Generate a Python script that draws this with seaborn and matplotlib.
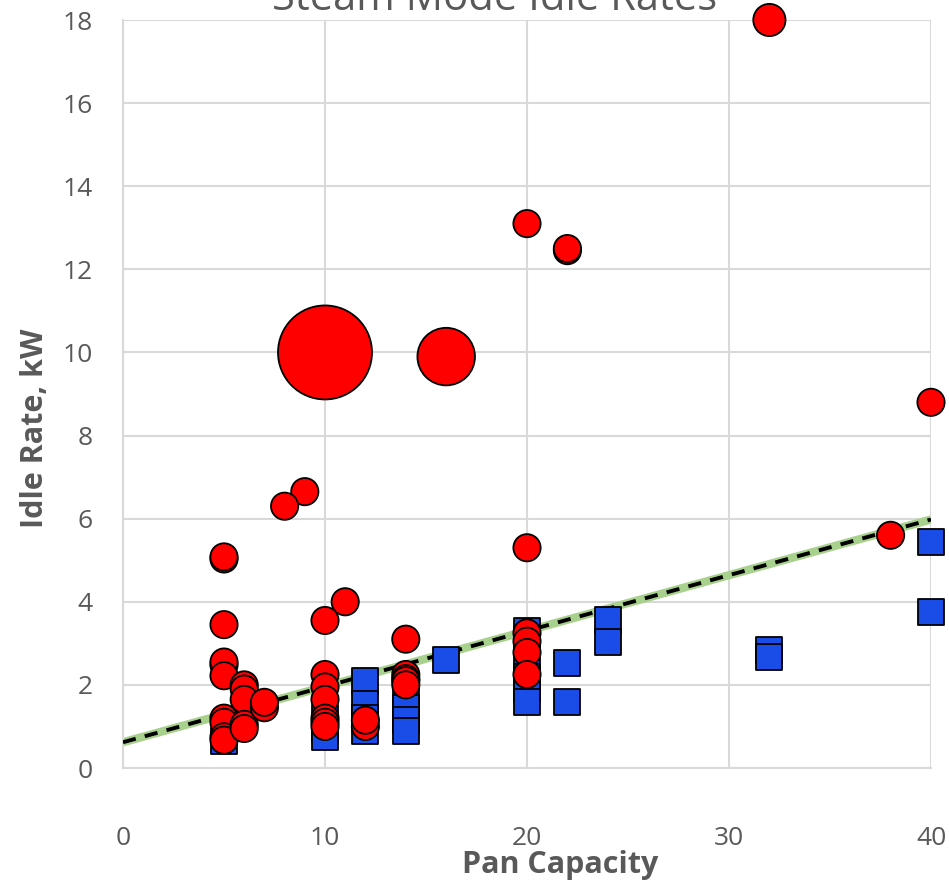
import matplotlib
matplotlib.use("Agg")
import matplotlib.pyplot as plt
import seaborn as sns
import pandas as pd
import numpy as np

# ---- data ----
red_x = [32, 10, 16, 20, 22, 22, 40, 38, 9, 8, 20, 5, 5, 11, 10, 14, 5,
         5, 5, 5, 5, 5, 5, 5,
         6, 6, 6, 6, 6, 7, 7,
         10, 10, 10, 10, 10, 10,
         12, 12,
         14, 14, 14, 14,
         20, 20, 20, 20]
red_y = [18.0, 10.0, 9.9, 13.1, 12.45, 12.5, 8.8, 5.6, 6.65, 6.3, 5.3, 5.03, 5.08, 4.0, 3.55, 3.1, 3.45,
         2.48, 2.55, 2.22, 1.2, 1.1, 0.75, 0.67,
         2.0, 1.9, 1.65, 1.05, 0.95, 1.45, 1.58,
         2.25, 1.95, 1.65, 1.2, 1.1, 1.0,
         1.0, 1.15,
         2.25, 2.15, 2.1, 2.0,
         3.25, 3.05, 2.78, 2.25]
red_bubble = [1.4, 11.9, 4.46, 1, 1, 1, 1, 1, 1, 1, 1, 1, 1, 1, 1, 1, 1,
              1, 1, 1, 1, 1, 1, 1,
              1, 1, 1, 1, 1, 1, 1,
              1, 1, 1, 1, 1, 1,
              1, 1,
              1, 1, 1, 1,
              1, 1, 1, 1]

blue_x = [5, 10, 10, 10, 12, 12, 12, 12, 14, 14, 14, 14, 16,
          20, 20, 20, 20, 20, 20, 22, 22, 24, 24, 32, 32, 40, 40]
blue_y = [0.65, 1.2, 0.95, 0.75, 2.1, 1.55, 1.2, 0.9, 1.7, 1.45, 1.15, 0.9, 2.6,
          3.3, 3.1, 2.7, 2.2, 1.9, 1.6, 2.53, 1.58, 3.56, 3.03, 2.85, 2.67, 5.44, 3.76]

trend_x = [0, 40]
trend_y = [0.62, 5.98]

x_ticks = [0, 10, 20, 30, 40]
y_ticks = [0, 2, 4, 6, 8, 10, 12, 14, 16, 18]

title = "Steam Mode Idle Rates"
x_label = "Pan Capacity"
y_label = "Idle Rate, kW"

# ---- styling ----
sns.set_style("white")
plt.rcParams["font.family"] = ["Open Sans", "DejaVu Sans"]
gray_txt = "#595959"
grid_c = "#d9d9d9"

fig = plt.figure(figsize=(9.49, 8.81), dpi=100)
ax = fig.add_axes([123 / 949, 1 - 768 / 881, 808 / 949, 748 / 881])

red_df = pd.DataFrame({"x": red_x, "y": red_y, "b": red_bubble})
blue_df = pd.DataFrame({"x": blue_x, "y": blue_y})
trend_df = pd.DataFrame({"x": trend_x, "y": trend_y})

sns.lineplot(data=trend_df, x="x", y="y", ax=ax, color="#a9d18e", lw=6.0,
             zorder=2, solid_capstyle="butt")
sns.lineplot(data=trend_df, x="x", y="y", ax=ax, color="black", lw=2.8,
             zorder=3, dashes=False, linestyle=(0, (3.4, 2.4)))

sns.scatterplot(data=blue_df, x="x", y="y", ax=ax, marker="s", s=355,
                color="#1a4de8", edgecolor="black", linewidth=1.3,
                zorder=4, clip_on=False, legend=False)
sns.scatterplot(data=red_df, x="x", y="y", size="b", sizes=(385, 4580),
                size_norm=(1, 11.9), ax=ax, marker="o", color="#ff0000",
                edgecolor="black", linewidth=1.3, zorder=5, clip_on=False,
                legend=False)

ax.set_xlim(0, 40)
ax.set_ylim(0, 18)
ax.set_xticks(x_ticks)
ax.set_yticks(y_ticks)
ax.grid(True, color=grid_c, lw=1.5)
ax.set_axisbelow(True)
for s in ["top", "right"]:
    ax.spines[s].set_visible(False)
for s in ["left", "bottom"]:
    ax.spines[s].set_color(grid_c)
    ax.spines[s].set_linewidth(1.5)
ax.tick_params(axis="both", length=0, labelsize=19, labelcolor=gray_txt)
ax.tick_params(axis="x", pad=42)
ax.tick_params(axis="y", pad=22)
ax.set_xlabel("")
ax.set_ylabel("")

fig.text(560 / 949, 1 - 865 / 881, x_label, ha="center", va="center",
         fontsize=22, fontweight="bold", color=gray_txt)
fig.text(35 / 949, 1 - 428 / 881, y_label, ha="center", va="center",
         rotation=90, fontsize=22, fontweight="bold", color=gray_txt)
fig.text(495 / 949, 1 - 10 / 881, title, ha="center", va="baseline",
         fontsize=30, color=gray_txt)

fig.savefig("out.png", dpi=100)
